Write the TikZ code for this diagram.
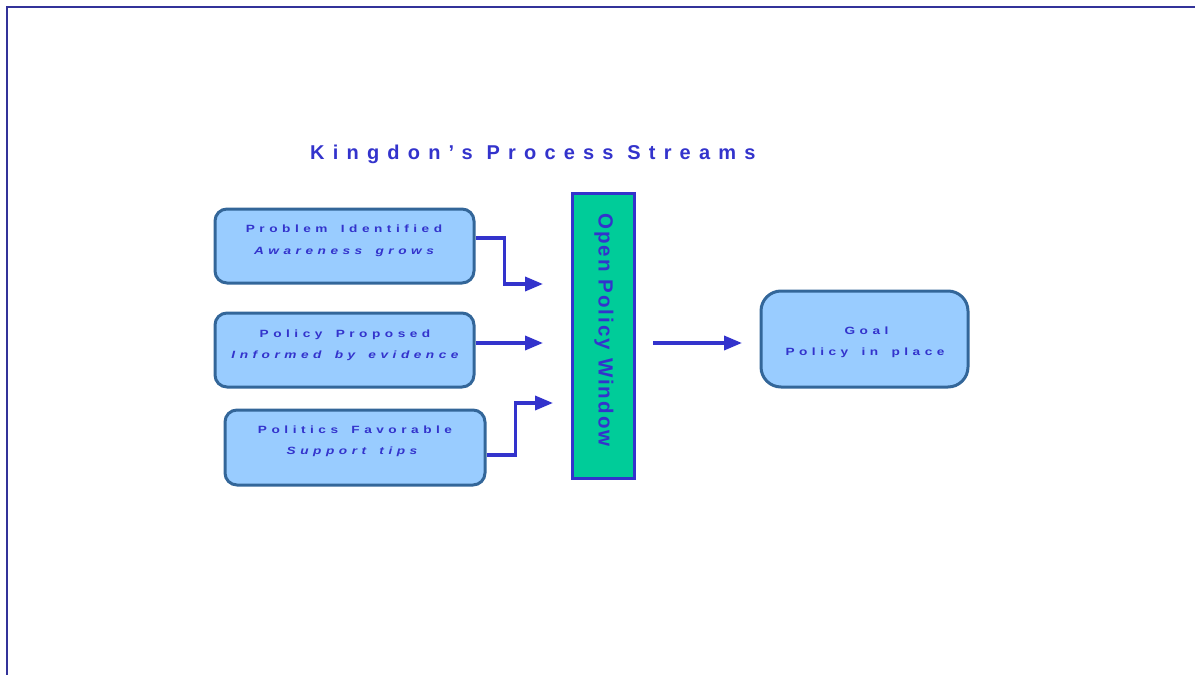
\documentclass[tikz,border=0pt]{standalone}
\usepackage{fontspec}
\setmainfont{Liberation Sans}
\newfontfamily\boxfam[FakeStretch=1.3,LetterSpace=43,WordSpace=1.6]{Liberation Sans}
\usetikzlibrary{arrows.meta}
\definecolor{boxblue}{HTML}{99CCFF}
\definecolor{edgeblue}{HTML}{336699}
\definecolor{inkblue}{HTML}{3333CC}
\definecolor{frameblue}{HTML}{333399}
\definecolor{windowgreen}{HTML}{00CC99}
\newcommand{\boxfont}{\boxfam\fontsize{10.5}{12}\selectfont\bfseries}
\tikzset{
  stream/.style={draw=edgeblue, fill=boxblue, line width=3pt, rounded corners=12pt,
    minimum width=259pt, minimum height=74pt},
  goalbox/.style={draw=edgeblue, fill=boxblue, line width=3pt, rounded corners=20pt,
    minimum width=207pt, minimum height=96pt},
  windowbar/.style={draw=inkblue, fill=windowgreen, line width=3pt,
    minimum width=62pt, minimum height=285pt},
  label/.style={text=inkblue, inner sep=0pt, anchor=base, font=\boxfont},
  flow/.style={draw=inkblue, line width=3.5pt, -{Triangle[length=18pt,width=14pt]}},
}
\begin{document}
\begin{tikzpicture}[x=1pt, y=-1pt]
  \useasboundingbox (0,0) rectangle (1195,675);
  % page frame (top and left edges)
  \draw[frameblue, line width=2pt] (7,675) -- (7,7) -- (1195,7);

  % title
  \node[anchor=base west, inner sep=0pt, text=inkblue,
        font=\fontsize{20}{24}\selectfont\bfseries\addfontfeatures{LetterSpace=41}]
        (title) at (310,159) {Kingdon’s Process Streams};

  % three streams
  \node[stream] (problem) at (344.5,246) {};
  \node[label] (problemA) at (344,232.5) {Problem Identified};
  \node[label, font=\boxfont\itshape] (problemB) at (344,254.5) {Awareness grows};

  \node[stream] (policy) at (344.5,350) {};
  \node[label] (policyA) at (345,337.5) {Policy Proposed};
  \node[label, font=\boxfont\itshape] (policyB) at (345,358.5) {Informed by evidence};

  \node[stream, minimum width=260pt, minimum height=75pt] (politics) at (355,447.5) {};
  \node[label] (politicsA) at (355,433.5) {Politics Favorable};
  \node[label, font=\boxfont\itshape] (politicsB) at (352,454.5) {Support tips};

  % policy window
  \node[windowbar] (window) at (603,335.5) {};
  \node[rotate=-90, text=inkblue, inner sep=0pt,
        font=\fontsize{20.5}{24}\selectfont\bfseries\addfontfeatures{LetterSpace=10}]
        (windowtext) at (604,330) {Open Policy Window};

  % goal
  \node[goalbox] (goal) at (864.5,339) {};
  \node[label] (goalA) at (866.5,334.5) {Goal};
  \node[label] (goalB) at (865,355.5) {Policy in place};

  % arrow end points
  \coordinate (in1) at (543,284);
  \coordinate (in2) at (543,343);
  \coordinate (in3) at (553,403);
  \coordinate (wout) at (653,343);
  \coordinate (gin) at (742,343);

  % connectors
  \draw[flow] ([yshift=8pt]problem.east) -- ++(29,0) |- (in1);
  \draw[flow] ([yshift=7pt]policy.east) -- (in2);
  \draw[flow] ([yshift=-7.5pt]politics.east) -- ++(29,0) |- (in3);
  \draw[flow] (wout) -- (gin);
\end{tikzpicture}
\end{document}
